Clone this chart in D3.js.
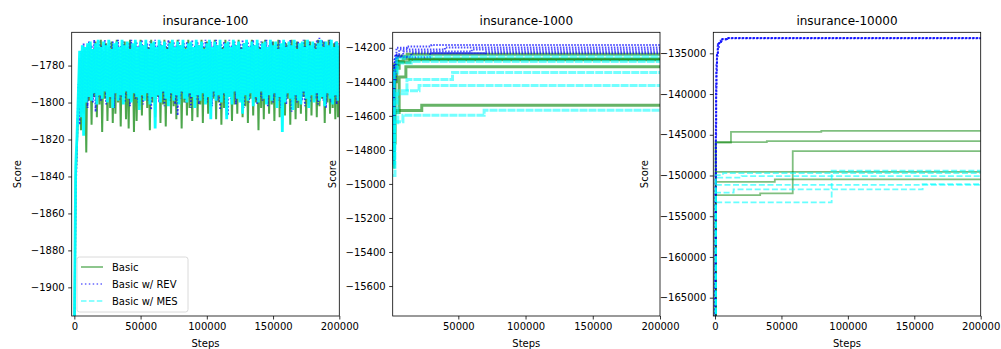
<!DOCTYPE html>
<html>
<head>
<meta charset="utf-8">
<script src="https://cdn.jsdelivr.net/npm/d3@7"></script>
<style>
  body { margin: 0; background: #fff; }
  svg { display: block; font-family: "DejaVu Sans", sans-serif; }
</style>
</head>
<body>
<svg id="chart" width="1001" height="349"></svg>
<script>
'use strict';

// ---- insurance-100 : one trace per method, score logged every 1000 steps
var steps100 = d3.range(0, 200001, 1000);

var basic100 = [
  -1935,-1842,-1822,-1801,-1776,-1815,-1772,-1806,-1771,-1827,-1769,-1799,-1768,-1812,-1771,-1797,-1767,-1808,-1770,-1801,
  -1766,-1816,-1772,-1798,-1768,-1810,-1770,-1803,-1767,-1811,-1769,-1806,-1766,-1800,-1771,-1813,-1768,-1797,-1767,-1809,
  -1770,-1814,-1766,-1799,-1769,-1816,-1767,-1810,-1771,-1802,-1766,-1807,-1769,-1798,-1767,-1803,-1770,-1815,-1766,-1800,
  -1768,-1808,-1771,-1797,-1767,-1811,-1769,-1801,-1766,-1813,-1770,-1799,-1767,-1806,-1768,-1802,-1771,-1809,-1766,-1798,
  -1769,-1814,-1767,-1800,-1770,-1807,-1766,-1803,-1768,-1810,-1771,-1797,-1767,-1808,-1769,-1801,-1766,-1811,-1770,-1799,
  -1767,-1806,-1768,-1802,-1771,-1798,-1766,-1809,-1769,-1800,-1767,-1812,-1770,-1803,-1766,-1807,-1768,-1797,-1771,-1810,
  -1767,-1801,-1769,-1806,-1766,-1799,-1770,-1808,-1768,-1802,-1767,-1811,-1771,-1798,-1766,-1807,-1769,-1800,-1768,-1815,
  -1770,-1803,-1767,-1809,-1766,-1797,-1771,-1806,-1768,-1801,-1767,-1810,-1769,-1799,-1766,-1808,-1770,-1802,-1767,-1807,
  -1768,-1798,-1771,-1812,-1766,-1800,-1769,-1809,-1767,-1803,-1770,-1806,-1768,-1797,-1766,-1810,-1771,-1801,-1767,-1807,
  -1769,-1799,-1768,-1808,-1766,-1802,-1770,-1798,-1767,-1811,-1769,-1800,-1766,-1806,-1771,-1803,-1768,-1809,-1767,-1808,
  -1772
];

var rev100 = [
  -1940,-1850,-1825,-1790,-1812,-1772,-1805,-1768,-1798,-1770,-1803,-1767,-1796,-1769,-1800,-1766,-1805,-1770,-1797,-1767,
  -1799,-1769,-1794,-1766,-1801,-1771,-1796,-1768,-1798,-1767,-1803,-1770,-1795,-1766,-1799,-1769,-1797,-1767,-1800,-1771,
  -1796,-1768,-1802,-1766,-1795,-1770,-1798,-1767,-1800,-1769,-1797,-1766,-1801,-1771,-1795,-1768,-1799,-1767,-1804,-1770,
  -1796,-1766,-1798,-1769,-1800,-1767,-1795,-1771,-1802,-1768,-1797,-1766,-1799,-1770,-1796,-1767,-1801,-1769,-1807,-1766,
  -1798,-1771,-1795,-1768,-1800,-1767,-1797,-1770,-1803,-1766,-1796,-1769,-1799,-1767,-1801,-1771,-1795,-1768,-1798,-1766,
  -1800,-1770,-1796,-1767,-1802,-1769,-1797,-1766,-1799,-1771,-1804,-1768,-1796,-1767,-1800,-1770,-1807,-1766,-1798,-1769,
  -1795,-1767,-1801,-1771,-1797,-1768,-1799,-1766,-1803,-1770,-1796,-1767,-1800,-1769,-1795,-1766,-1798,-1771,-1801,-1768,
  -1797,-1767,-1799,-1770,-1796,-1766,-1802,-1769,-1795,-1767,-1800,-1771,-1797,-1768,-1799,-1766,-1803,-1770,-1796,-1767,
  -1801,-1769,-1795,-1766,-1805,-1771,-1798,-1768,-1800,-1767,-1796,-1770,-1799,-1766,-1802,-1769,-1797,-1767,-1800,-1771,
  -1795,-1768,-1798,-1766,-1801,-1765,-1797,-1766,-1799,-1767,-1803,-1769,-1796,-1766,-1800,-1770,-1797,-1767,-1801,-1768,
  -1798
];

var mes100 = [
  -1925,-1835,-1818,-1795,-1772,-1808,-1769,-1818,-1770,-1800,-1768,-1797,-1767,-1799,-1771,-1795,-1768,-1801,-1766,-1796,
  -1770,-1798,-1767,-1794,-1769,-1800,-1766,-1797,-1771,-1803,-1768,-1795,-1767,-1799,-1770,-1796,-1766,-1801,-1769,-1794,
  -1767,-1798,-1771,-1800,-1768,-1795,-1766,-1797,-1770,-1804,-1767,-1796,-1769,-1799,-1766,-1795,-1771,-1801,-1768,-1797,
  -1767,-1814,-1770,-1796,-1766,-1800,-1769,-1794,-1767,-1798,-1771,-1802,-1768,-1795,-1766,-1799,-1770,-1796,-1767,-1801,
  -1769,-1794,-1766,-1798,-1771,-1800,-1768,-1795,-1767,-1797,-1770,-1803,-1766,-1796,-1769,-1799,-1767,-1795,-1771,-1801,
  -1768,-1797,-1766,-1809,-1770,-1794,-1767,-1799,-1769,-1796,-1766,-1800,-1771,-1795,-1768,-1809,-1767,-1797,-1770,-1801,
  -1766,-1794,-1769,-1798,-1767,-1800,-1771,-1806,-1768,-1796,-1766,-1799,-1770,-1795,-1767,-1802,-1769,-1797,-1766,-1800,
  -1771,-1794,-1768,-1798,-1767,-1801,-1770,-1796,-1766,-1799,-1769,-1795,-1767,-1803,-1771,-1797,-1768,-1816,-1766,-1800,
  -1770,-1795,-1767,-1798,-1769,-1804,-1766,-1796,-1771,-1799,-1768,-1801,-1767,-1794,-1770,-1798,-1766,-1803,-1769,-1796,
  -1767,-1800,-1771,-1795,-1768,-1799,-1766,-1797,-1770,-1802,-1767,-1795,-1769,-1798,-1766,-1801,-1770,-1796,-1767,-1799,
  -1769
];

// ---- insurance-1000 : five runs per method, [step, best score] at each change
var basic1000 = [
  [[1200,-14800],[2500,-14300],[5000,-14250],[12000,-14238],[200000,-14238]],
  [[1200,-14850],[2000,-14400],[4000,-14280],[9000,-14266],[200000,-14266]],
  [[1200,-14760],[3000,-14320],[6000,-14285],[14000,-14271],[200000,-14271]],
  [[1200,-14900],[2000,-14580],[6000,-14372],[11000,-14312],[200000,-14312]],
  [[1200,-14880],[2000,-14568],[22800,-14537],[200000,-14537]]
];
var rev1000 = [
  [[1200,-14880],[1800,-14420],[2500,-14260],[4000,-14200],[12000,-14192],[30000,-14184],[200000,-14184]],
  [[1200,-14820],[2000,-14350],[3000,-14240],[6000,-14210],[40000,-14198],[200000,-14198]],
  [[1200,-14760],[2200,-14300],[3500,-14245],[9000,-14222],[60000,-14210],[200000,-14210]],
  [[1200,-14700],[2500,-14320],[4000,-14252],[15000,-14232],[70000,-14222],[200000,-14222]],
  [[1200,-14850],[2000,-14400],[3500,-14256],[29000,-14232],[200000,-14230]]
];
var mes1000 = [
  [[1200,-14800],[2000,-14330],[4000,-14262],[10000,-14252],[200000,-14252]],
  [[1200,-14850],[2500,-14350],[5000,-14290],[15000,-14280],[200000,-14280]],
  [[1200,-14900],[2500,-14520],[4000,-14470],[11800,-14387],[45700,-14345],[200000,-14345]],
  [[1200,-14880],[2500,-14640],[5000,-14453],[20800,-14421],[200000,-14421]],
  [[1200,-14950],[2900,-14635],[8800,-14596],[69200,-14567],[200000,-14567]]
];

// ---- insurance-10000
var basic10000 = [
  [[0,-169000],[500,-145950],[12000,-144650],[80000,-144520],[200000,-144520]],
  [[0,-169000],[500,-145900],[39000,-145780],[200000,-145780]],
  [[0,-169000],[500,-152400],[34000,-152200],[58500,-147000],[200000,-147000]],
  [[0,-169000],[500,-149550],[200000,-149550]],
  [[0,-169000],[500,-150780],[45000,-150480],[200000,-150480]]
];
var rev10000 = [
  [[0,-171000],[200,-163000],[400,-152000],[600,-145000],[800,-140000],[1000,-137200],
   [1400,-135300],[2000,-134200],[3000,-133600],[4500,-133300],[8000,-133150],[200000,-133100]],
  [[0,-170000],[250,-161000],[450,-150000],[650,-143500],[850,-139000],[1100,-136300],
   [1500,-134900],[2200,-133900],[3300,-133450],[5000,-133250],[9000,-133130],[200000,-133100]]
];
var mes10000 = [
  [[0,-169000],[600,-153300],[87800,-149420],[200000,-149420]],
  [[0,-169000],[600,-152100],[14000,-151700],[156300,-151050],[200000,-151050]],
  [[0,-169000],[600,-151150],[200000,-151150]],
  [[0,-169000],[600,-150250],[20000,-150080],[200000,-150080]],
  [[0,-169000],[600,-149950],[6000,-149700],[200000,-149700]]
];

var yTicks100 = d3.range(-1900, -1779, 20);
var yTicks1000 = d3.range(-15600, -14199, 200);
var yTicks10000 = d3.range(-165000, -134999, 5000);
var xTicks = [0, 50000, 100000, 150000, 200000];

var GREEN = '#008000', BLUE = '#0000ff', CYAN = '#00ffff';
var plotTop = 32.3, plotBottom = 316;

var svg = d3.select('#chart');
var fmt = d3.format('d');

function drawPanel(cfg) {
  var x = d3.scaleLinear().domain(cfg.xDomain).range([cfg.left, cfg.right]);
  var y = d3.scaleLinear().domain(cfg.yDomain).range([plotBottom, plotTop]);
  var g = svg.append('g');

  var clipId = 'clip-' + cfg.id;
  svg.append('clipPath').attr('id', clipId)
    .append('rect')
    .attr('x', cfg.left).attr('y', plotTop)
    .attr('width', cfg.right - cfg.left).attr('height', plotBottom - plotTop);

  var plot = g.append('g').attr('clip-path', 'url(#' + clipId + ')');
  cfg.draw(plot, x, y);

  var xAxis = d3.axisBottom(x)
    .tickValues(xTicks.filter(function (t) { return t >= cfg.xDomain[0]; }))
    .tickFormat(fmt).tickSize(3.5).tickPadding(3.5).tickSizeOuter(0);
  var yAxis = d3.axisLeft(y)
    .tickValues(cfg.yTicks)
    .tickFormat(fmt).tickSize(3.5).tickPadding(3.5).tickSizeOuter(0);

  var xa = g.append('g').attr('transform', 'translate(0,' + plotBottom + ')').call(xAxis);
  var ya = g.append('g').attr('transform', 'translate(' + cfg.left + ',0)').call(yAxis);
  [xa, ya].forEach(function (a) {
    a.select('.domain').remove();
    a.selectAll('line').attr('stroke', '#000').attr('stroke-width', 0.8);
    a.selectAll('text').attr('fill', '#000')
      .style('font-size', '10px').style('font-family', '"DejaVu Sans", sans-serif');
  });

  g.append('rect')
    .attr('x', cfg.left).attr('y', plotTop)
    .attr('width', cfg.right - cfg.left).attr('height', plotBottom - plotTop)
    .attr('fill', 'none').attr('stroke', '#000').attr('stroke-width', 0.8);

  g.append('text')
    .attr('x', (cfg.left + cfg.right) / 2).attr('y', 25)
    .attr('text-anchor', 'middle').style('font-size', '12px')
    .text(cfg.title);
  g.append('text')
    .attr('x', (cfg.left + cfg.right) / 2).attr('y', 347)
    .attr('text-anchor', 'middle').style('font-size', '10px')
    .text('Steps');
  g.append('text')
    .attr('transform', 'translate(' + cfg.labelX + ',' + ((plotTop + plotBottom) / 2) + ') rotate(-90)')
    .attr('text-anchor', 'middle').style('font-size', '10px')
    .text('Score');
}

function addRuns(plot, x, y, runs, style) {
  var line = d3.line()
    .x(function (d) { return x(d[0]); })
    .y(function (d) { return y(d[1]); })
    .curve(d3.curveStepAfter);
  plot.selectAll(null).data(runs).enter().append('path')
    .attr('d', line)
    .attr('fill', 'none')
    .attr('stroke', style.color)
    .attr('stroke-opacity', style.opacity)
    .attr('stroke-width', style.width)
    .attr('stroke-dasharray', style.dash || null);
}

function addTrace(plot, x, y, values, style) {
  var line = d3.line()
    .x(function (d, i) { return x(steps100[i]); })
    .y(function (d) { return y(d); });
  plot.append('path')
    .datum(values)
    .attr('d', line)
    .attr('fill', 'none')
    .attr('stroke', style.color)
    .attr('stroke-opacity', style.opacity)
    .attr('stroke-width', style.width)
    .attr('stroke-linejoin', 'bevel')
    .attr('stroke-dasharray', style.dash || null);
}

drawPanel({
  id: 'p1', title: 'insurance-100', left: 71.7, right: 339.3, labelX: 21,
  xDomain: [-2000, 200000], yDomain: [-1915.5, -1762], yTicks: yTicks100,
  draw: function (plot, x, y) {
    addTrace(plot, x, y, basic100, { color: GREEN, opacity: 0.7, width: 2 });
    addTrace(plot, x, y, rev100, { color: BLUE, opacity: 0.75, width: 1.8, dash: '1.5,2' });
    addTrace(plot, x, y, mes100, { color: CYAN, opacity: 0.95, width: 2.8 });
  }
});

drawPanel({
  id: 'p2', title: 'insurance-1000', left: 392.7, right: 660, labelX: 336,
  xDomain: [1200, 200000], yDomain: [-15776, -14109], yTicks: yTicks1000,
  draw: function (plot, x, y) {
    addRuns(plot, x, y, basic1000, { color: GREEN, opacity: 0.6, width: 3 });
    addRuns(plot, x, y, rev1000, { color: BLUE, opacity: 0.7, width: 2, dash: '1.5,1.5' });
    addRuns(plot, x, y, mes1000, { color: CYAN, opacity: 0.55, width: 3, dash: '8,1' });
  }
});

drawPanel({
  id: 'p3', title: 'insurance-10000', left: 713.3, right: 980.7, labelX: 648,
  xDomain: [-1300, 200000], yDomain: [-167250, -132420], yTicks: yTicks10000,
  draw: function (plot, x, y) {
    addRuns(plot, x, y, basic10000, { color: GREEN, opacity: 0.5, width: 1.8 });
    addRuns(plot, x, y, rev10000, { color: BLUE, opacity: 0.8, width: 2, dash: '2,1.6' });
    addRuns(plot, x, y, mes10000, { color: CYAN, opacity: 0.6, width: 1.8, dash: '6,2.6' });
  }
});

// legend (first panel, lower left)
var legendItems = [
  { label: 'Basic', color: GREEN, dash: null },
  { label: 'Basic w/ REV', color: BLUE, dash: '1.5,2.4' },
  { label: 'Basic w/ MES', color: CYAN, dash: '5.5,2.4' }
];
var lg = svg.append('g').attr('transform', 'translate(77,257)');
lg.append('rect')
  .attr('width', 111).attr('height', 55).attr('rx', 2.5)
  .attr('fill', '#fff').attr('fill-opacity', 0.8)
  .attr('stroke', '#d0d0d0').attr('stroke-width', 0.8);
var rows = lg.selectAll('g.row').data(legendItems).enter().append('g')
  .attr('class', 'row')
  .attr('transform', function (d, i) { return 'translate(0,' + (10 + i * 17) + ')'; });
rows.append('line')
  .attr('x1', 4).attr('x2', 26).attr('y1', 0).attr('y2', 0)
  .attr('stroke', function (d) { return d.color; })
  .attr('stroke-opacity', 0.6).attr('stroke-width', 1.5)
  .attr('stroke-dasharray', function (d) { return d.dash; });
rows.append('text')
  .attr('x', 35).attr('y', 0).attr('dy', '0.35em')
  .style('font-size', '10px')
  .text(function (d) { return d.label; });
</script>
</body>
</html>
